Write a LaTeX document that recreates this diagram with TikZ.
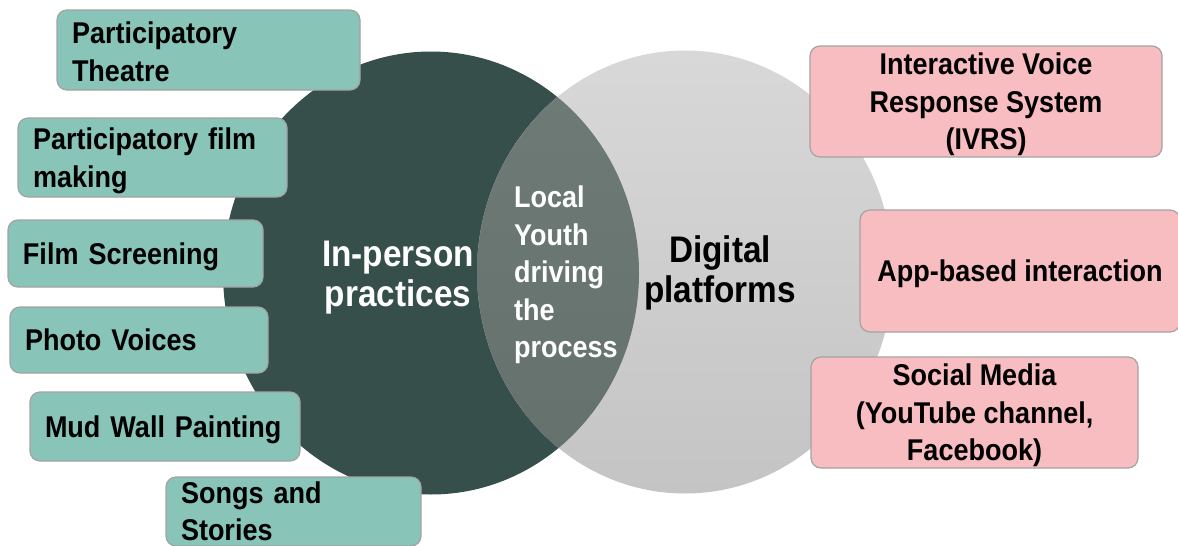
\documentclass[tikz,border=0pt]{standalone}
\usepackage{fontspec}
\setmainfont{Liberation Sans}[FakeStretch=0.9]
\definecolor{darkc}{HTML}{364F4A}
\definecolor{lighttop}{HTML}{D8D8D8}
\definecolor{lightbot}{HTML}{C4C4C4}
\definecolor{lenstop}{HTML}{6F7B77}
\definecolor{lensbot}{HTML}{64706C}
\definecolor{tealbox}{HTML}{88C4B8}
\definecolor{pinkbox}{HTML}{F8BDC1}
\definecolor{boxline}{HTML}{A3A3A3}
\begin{document}
\begin{tikzpicture}[x=1pt,y=-1pt,
  boxfont/.style={font=\bfseries\fontsize{30}{37.5}\selectfont},
  lbox/.style={boxfont, draw=boxline, line width=1.2pt, rounded corners=10pt, fill=tealbox, align=left, inner xsep=15pt, inner ysep=0pt},
  rbox/.style={boxfont, draw=boxline, line width=1.2pt, rounded corners=10pt, fill=pinkbox, align=center, inner sep=0pt, text depth=0pt},
  bigtext/.style={font=\bfseries\fontsize{37}{40}\selectfont, align=center, inner sep=0pt},
  lenstext/.style={font=\bfseries\fontsize{30}{37.5}\selectfont, align=left, inner sep=0pt, text=white}
]
\useasboundingbox (0,0) rectangle (1178,546);
\clip (0,0) rectangle (1178,546);
\fill[white] (0,0) rectangle (1178,546);

% circles
\fill[darkc] (431,273) ellipse [x radius=208pt, y radius=221.5pt];
\shade[top color=lighttop, bottom color=lightbot] (685,272) ellipse [x radius=208pt, y radius=221.5pt];
\begin{scope}
  \clip (431,273) ellipse [x radius=208pt, y radius=221.5pt];
  \shade[top color=lenstop, bottom color=lensbot] (685,272) ellipse [x radius=208pt, y radius=221.5pt];
\end{scope}

% circle labels
\node[bigtext, text=white, anchor=north] (inperson) at (398,241) {In-person\\practices};
\node[bigtext, text=black, anchor=north] (digital) at (720,235) {Digital\\platforms};
\node[lenstext, anchor=north west] (youth) at (514,186) {Local\\Youth\\driving\\the\\process};

% left boxes
\node[lbox, text width=273pt, minimum height=80pt, text height=25pt] (theatre) at (208.5,50) {Participatory\\Theatre};
\node[lbox, text width=239pt, minimum height=79pt, text height=28pt] (film) at (152.5,157.5) {Participatory~film\\making};
\node[lbox, text width=225pt, minimum height=67pt, text depth=0pt] (screen) at (135.5,253.5) {Film~Screening};
\node[lbox, text width=228pt, minimum height=66pt] (photo) at (139,340) {Photo~Voices};
\node[lbox, text width=240pt, minimum height=69pt, text depth=0pt] (mud) at (165,426.5) {Mud~Wall~Painting};
\node[lbox, text width=225pt, minimum height=69pt] (songs) at (293.5,511.5) {Songs~and\\Stories};

% right boxes
\node[rbox, minimum width=352pt, minimum height=111pt] (ivrs) at (986,101.5) {Interactive Voice\\Response System\\(IVRS)};
\node[rbox, minimum width=320pt, minimum height=122pt] (app) at (1020,271) {App-based interaction};
\node[rbox, minimum width=327pt, minimum height=111pt] (social) at (974.5,412.5) {Social Media\\(YouTube channel,\\Facebook)};
\end{tikzpicture}
\end{document}
